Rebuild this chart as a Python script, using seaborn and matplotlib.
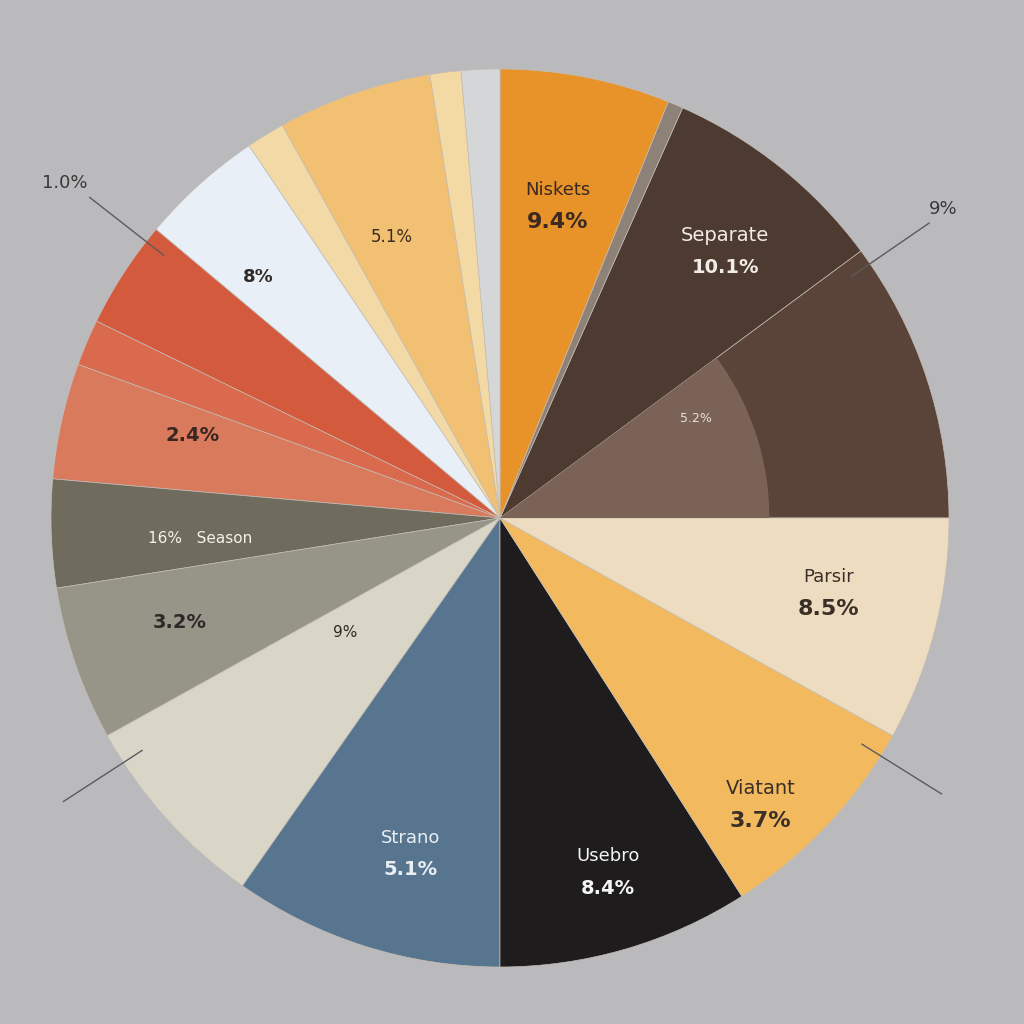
import numpy as np
import matplotlib
matplotlib.use("Agg")
import matplotlib.pyplot as plt
import seaborn as sns

sns.set_theme(style="white")
plt.rcParams['font.family'] = ['DejaVu Sans']

# ---- data (wedge shares, counter-clockwise from 3 o'clock) ----
segments = ["Inner", "Separate", "Gap", "Niskets", "Silver", "Straw", "Amber",
            "Wheat", "Frost", "Brick", "Coral", "Salmon", "Season", "Slate",
            "Sand", "Strano", "Usebro", "Viatant", "Parsir"]
shares = [36.5, 29.5, 2.0, 22.0, 5.0, 4.0, 20.0, 5.0, 16.0, 14.0, 6.0, 15.0,
          14.0, 20.0, 26.0, 35.0, 32.6, 28.4, 29.0]
colors = ["#5a4439", "#4d3a31", "#8d8178", "#e8922a", "#d5d6d8", "#f3d9a3",
          "#f2c072", "#f3d9a6", "#e9eff6", "#d45a3d", "#d96a4d", "#d97a5d",
          "#6f6c5d", "#979588", "#d9d6c8", "#587590", "#1e1c1d", "#f2b95f",
          "#eedcc0"]

# labels drawn inside wedges: (segment, name, percent)
label_segment = ["Niskets", "Separate", "Inner", "Parsir", "Viatant", "Usebro",
                 "Strano", "Sand", "Slate", "Season", "Salmon", "Frost", "Amber"]
label_name = ["Niskets", "Separate", "", "Parsir", "Viatant", "Usebro",
              "Strano", "", "", "", "", "", ""]
label_pct = ["9.4%", "10.1%", "5.2%", "8.5%", "3.7%", "8.4%", "5.1%", "9%",
             "3.2%", "16%   Season", "2.4%", "8%", "5.1%"]
outside_pct = ["1.0%", "9%", "", ""]

# ---- layout / style ----
bg = "#bab9bc"
label_r = [0.71, 0.78, 0.49, 0.75, 0.86, 0.82, 0.77, 0.43, 0.75, 0.67, 0.71, 0.76, 0.67]
label_ang = [79.6, 50.0, 27.0, -12.6, -47.5, -73.0, 255.0, 216.5, 198.0, 184.0, 165.0, 135.0, 111.0]
label_col = ["#3a2a22", "#f1ece6", "#e8e0da", "#3a2f28", "#3a2f28", "#f4f4f4",
             "#e9eef3", "#2f2a28", "#2f2a28", "#f4f2ea", "#3a2620", "#2f2a28", "#3a2a20"]
name_size = [13, 14, 0, 13, 14, 13, 13, 0, 0, 0, 0, 0, 0]
pct_size = [16, 14, 9, 16, 16, 14, 14, 11, 14, 11, 14, 13, 12]
outside_ang = [142.0, 34.5, 213.0, -32.0]

fig = plt.figure(figsize=(10.24, 10.24), dpi=100)
fig.patch.set_facecolor(bg)
ax = fig.add_axes([0, 0, 1, 1])
ax.set_facecolor(bg)

cx, cy, R = 500, 1024 - 518, 449
ax.pie(shares, colors=colors, startangle=0, counterclock=True,
       center=(cx, cy), radius=R, frame=True,
       wedgeprops=dict(linewidth=0.5, edgecolor="#c4bdb5"))
# lighter inner wedge inside the first segment
total = sum(shares)
ax.pie([shares[0], total - shares[0]], colors=["#7a6356", "none"], startangle=0,
       counterclock=True, center=(cx, cy), radius=R * 0.6, frame=True,
       wedgeprops=dict(linewidth=0))
ax.set_xlim(0, 1024)
ax.set_ylim(0, 1024)
ax.set_aspect("equal")
ax.axis("off")

for i in range(len(label_segment)):
    a = np.deg2rad(label_ang[i])
    x = cx + label_r[i] * R * np.cos(a)
    y = cy + label_r[i] * R * np.sin(a)
    if label_name[i]:
        ax.text(x, y + 14, label_name[i], ha="center", va="center",
                fontsize=name_size[i], color=label_col[i])
        ax.text(x, y - 18, label_pct[i], ha="center", va="center",
                fontsize=pct_size[i], color=label_col[i], fontweight="bold")
    else:
        ax.text(x, y, label_pct[i], ha="center", va="center",
                fontsize=pct_size[i], color=label_col[i],
                fontweight="bold" if pct_size[i] >= 13 else "normal")

for i, ang in enumerate(outside_ang):
    a = np.deg2rad(ang)
    x0, y0 = cx + 0.95 * R * np.cos(a), cy + 0.95 * R * np.sin(a)
    x1, y1 = cx + 1.16 * R * np.cos(a), cy + 1.16 * R * np.sin(a)
    ax.plot([x0, x1], [y0, y1], color="#5c5a5c", lw=1.0)
    if outside_pct[i]:
        ha = "right" if np.cos(a) < 0 else "left"
        ax.text(x1 + (-2 if ha == "right" else 0), y1 + 14, outside_pct[i],
                ha=ha, va="center", fontsize=13, color="#3a3839")

fig.savefig("out.png", dpi=100, facecolor=bg)
